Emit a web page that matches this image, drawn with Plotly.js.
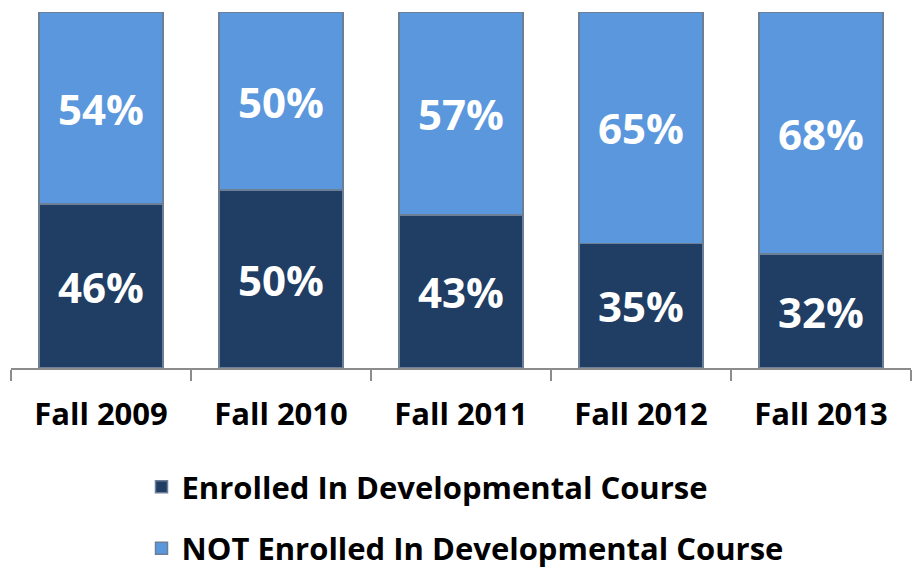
<!DOCTYPE html>
<html>
<head>
<meta charset="utf-8">
<script src="https://cdn.plot.ly/plotly-3.0.1.min.js"></script>
<style>html,body{margin:0;padding:0;background:#fff;}#chart{width:914px;height:570px;}</style>
</head>
<body>
<div id="chart"></div>
<script>
const categories = ["Fall 2009", "Fall 2010", "Fall 2011", "Fall 2012", "Fall 2013"];
const enrolled = [46, 50, 43, 35, 32];
const notEnrolled = [54, 50, 57, 65, 68];
const seriesNames = ["Enrolled In Developmental Course", "NOT Enrolled In Developmental Course"];

const FONT = "Open Sans, Liberation Sans, sans-serif";
const common = {
  type: "bar",
  x: categories,
  texttemplate: "%{y}%",
  textposition: "inside",
  insidetextanchor: "middle",
  textfont: {family: FONT, size: 42, color: "#ffffff", weight: "bold"},
  hoverinfo: "skip"
};
const traces = [
  Object.assign({}, common, {
    y: enrolled, name: seriesNames[0], legendgroup: "a",
    marker: {color: "#203d64", line: {color: "#6d7f96", width: 1.5}}
  }),
  Object.assign({}, common, {
    y: notEnrolled, name: seriesNames[1], legendgroup: "b",
    marker: {color: "#5b97dd", line: {color: "#6d7f96", width: 1.5}}
  })
];
const layout = {
  width: 914, height: 570,
  margin: {l: 11, r: 3, t: 12, b: 202, autoexpand: false},
  barmode: "stack",
  bargap: 0.31,
  paper_bgcolor: "#ffffff", plot_bgcolor: "#ffffff",
  font: {family: FONT, color: "#000000"},
  xaxis: {
    showline: true, linecolor: "#8c8c8c", linewidth: 1.5,
    ticks: "outside", tickson: "boundaries", ticklen: 11, tickcolor: "#8c8c8c", tickwidth: 1.5,
    ticklabelstandoff: 18,
    tickfont: {family: FONT, size: 31, color: "#000000", weight: "bold"},
    showgrid: false, zeroline: false, automargin: false
  },
  yaxis: {range: [0, 100], visible: false, showgrid: false, zeroline: false},
  showlegend: true,
  legend: {
    orientation: "v", x: 0.145, xanchor: "left", y: -0.259, yanchor: "top",
    traceorder: "grouped", tracegroupgap: 18,
    font: {family: FONT, size: 31, color: "#000000", weight: "bold"},
    bgcolor: "rgba(0,0,0,0)"
  }
};
Plotly.newPlot("chart", traces, layout, {displayModeBar: false, staticPlot: true});
</script>
</body>
</html>
